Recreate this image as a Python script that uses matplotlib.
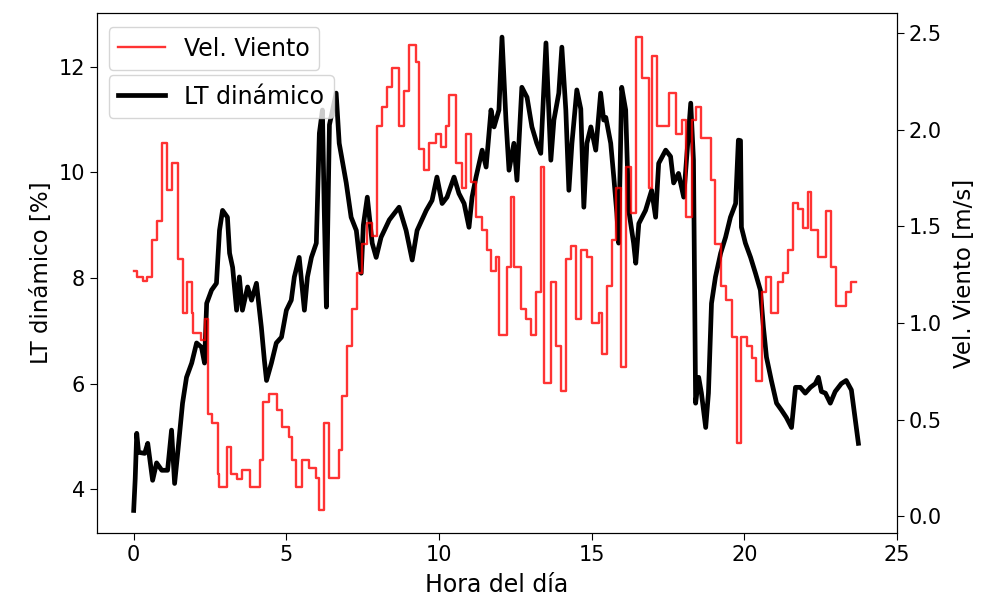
import matplotlib
matplotlib.use("Agg")
import matplotlib.pyplot as plt

# LT dinámico [%] vs hora
lt_hora = [0.00, 0.05, 0.10, 0.16, 0.36, 0.46, 0.62, 0.75, 0.92, 1.11, 1.24, 1.34, 1.44,
           1.60, 1.73, 1.90, 2.06, 2.22, 2.32, 2.39, 2.55, 2.71, 2.81, 2.91, 3.07, 3.14,
           3.24, 3.37, 3.46, 3.56, 3.73, 3.86, 4.02, 4.18, 4.28, 4.35, 4.51, 4.67, 4.84,
           5.00, 5.16, 5.26, 5.42, 5.59, 5.69, 5.82, 5.98, 6.08, 6.18, 6.24, 6.31, 6.41,
           6.63, 6.73, 6.96, 7.12, 7.29, 7.45, 7.52, 7.65, 7.81, 7.94, 8.10, 8.37, 8.69,
           8.92, 9.12, 9.28, 9.58, 9.77, 9.93, 10.10, 10.26, 10.49, 10.65, 10.82, 10.98,
           11.08, 11.21, 11.41, 11.54, 11.70, 11.80, 11.96, 12.06, 12.19, 12.29, 12.45,
           12.55, 12.71, 12.88, 13.04, 13.20, 13.33, 13.50, 13.66, 13.76, 13.92, 14.02,
           14.15, 14.25, 14.35, 14.51, 14.64, 14.74, 14.84, 14.97, 15.13, 15.29, 15.39,
           15.46, 15.62, 15.72, 15.82, 15.88, 15.98, 16.11, 16.21, 16.37, 16.44, 16.54,
           16.76, 16.96, 17.09, 17.19, 17.42, 17.58, 17.68, 17.84, 18.01, 18.10, 18.24,
           18.33, 18.40, 18.50, 18.59, 18.73, 18.82, 18.92, 19.05, 19.22, 19.38, 19.54,
           19.71, 19.80, 19.87, 19.90, 20.03, 20.20, 20.36, 20.52, 20.62, 20.72, 20.88,
           21.05, 21.21, 21.37, 21.54, 21.67, 21.83, 21.99, 22.16, 22.32, 22.42, 22.52,
           22.65, 22.81, 22.97, 23.17, 23.33, 23.50, 23.63, 23.73]
lt_valor = [3.6, 4.2, 5.06, 4.7, 4.68, 4.87, 4.17, 4.5, 4.36, 4.36, 5.12, 4.11, 4.68,
            5.63, 6.12, 6.39, 6.77, 6.69, 6.39, 7.52, 7.77, 7.9, 8.9, 9.28, 9.15, 8.47,
            8.2, 7.39, 8.02, 7.39, 7.83, 7.58, 7.9, 7.07, 6.44, 6.06, 6.39, 6.77, 6.88,
            7.39, 7.58, 8.02, 8.39, 7.39, 8.02, 8.39, 8.66, 10.74, 11.18, 9.28, 7.45, 10.9,
            11.5, 10.55, 9.8, 9.15, 8.9, 8.09, 9.0, 9.53, 8.66, 8.39, 8.77, 9.1, 9.34,
            8.9, 8.34, 8.9, 9.28, 9.47, 9.91, 9.41, 9.53, 9.91, 9.6, 9.41, 8.96,
            9.53, 9.91, 10.42, 10.1, 11.18, 10.86, 11.18, 12.56, 10.99, 10.04, 10.55,
            9.85, 11.61, 11.42, 10.86, 10.55, 10.36, 12.45, 10.23, 10.99, 11.5, 12.37,
            11.18, 9.66, 10.55, 11.56, 11.2, 9.34, 10.55, 10.86, 10.42, 11.5, 10.99,
            11.04, 10.55, 9.91, 9.23, 8.66, 11.61, 11.18, 9.28, 8.66, 8.28, 9.03,
            9.28, 9.66, 9.15, 10.17, 10.42, 10.3, 9.8, 9.98, 9.53, 10.23, 11.31,
            10.23, 5.63, 6.12, 5.82, 5.17, 5.82, 7.52, 8.02, 8.47, 8.77, 9.15,
            9.41, 10.61, 10.6, 8.96, 8.66, 8.39, 8.09, 7.77, 7.07, 6.5, 6.06,
            5.63, 5.5, 5.36, 5.17, 5.93, 5.93, 5.82, 5.93, 6.0, 6.12, 5.85,
            5.82, 5.63, 5.85, 6.0, 6.06, 5.88, 5.31, 4.87]

# Velocidad del viento [m/s], valores escalonados
viento_hora = [0.00, 0.10, 0.30, 0.42, 0.59, 0.75, 0.92, 1.08, 1.24, 1.44, 1.60, 1.76,
               1.90, 1.93, 2.22, 2.32, 2.42, 2.58, 2.75, 2.81, 3.04, 3.20, 3.37, 3.56,
               3.80, 4.12, 4.22, 4.44, 4.70, 4.87, 5.10, 5.20, 5.33, 5.52, 5.75, 5.98,
               6.08, 6.24, 6.41, 6.73, 6.83, 6.99, 7.16, 7.32, 7.48, 7.65, 7.81, 7.97,
               8.14, 8.30, 8.46, 8.69, 8.86, 9.02, 9.25, 9.35, 9.51, 9.67, 9.90, 10.07,
               10.23, 10.33, 10.56, 10.75, 10.88, 11.05, 11.21, 11.41, 11.57, 11.70,
               11.86, 11.96, 12.22, 12.35, 12.45, 12.68, 12.84, 13.01, 13.17, 13.33,
               13.43, 13.66, 13.82, 13.99, 14.15, 14.31, 14.48, 14.64, 14.84, 15.00,
               15.23, 15.33, 15.49, 15.65, 15.78, 15.95, 16.11, 16.27, 16.44, 16.63,
               16.86, 16.96, 17.12, 17.52, 17.75, 17.94, 18.10, 18.27, 18.40, 18.56,
               18.89, 19.05, 19.22, 19.41, 19.58, 19.74, 19.90, 20.07, 20.23, 20.39,
               20.56, 20.72, 20.88, 21.11, 21.27, 21.44, 21.60, 21.76, 21.93, 22.09,
               22.19, 22.42, 22.68, 22.84, 23.01, 23.33, 23.50, 23.66]
viento_valor = [1.27, 1.24, 1.22, 1.24, 1.43, 1.53, 1.93, 1.69, 1.83, 1.33, 1.05, 1.21,
                1.05, 0.95, 0.91, 1.02, 0.53, 0.48, 0.22, 0.15, 0.36, 0.22, 0.19, 0.24,
                0.15, 0.29, 0.59, 0.63, 0.55, 0.46, 0.41, 0.29, 0.15, 0.29, 0.25, 0.20,
                0.03, 0.48, 0.20, 0.34, 0.62, 0.88, 1.07, 1.26, 1.41, 1.52, 1.45, 2.02,
                2.12, 2.22, 2.32, 2.02, 2.20, 2.44, 2.35, 1.90, 1.79, 1.93, 1.98, 1.91,
                2.02, 2.18, 1.83, 1.70, 1.98, 1.73, 1.55, 1.48, 1.38, 1.27,
                1.34, 0.94, 1.29, 1.65, 1.29, 1.07, 1.02, 0.94, 1.16, 1.81,
                0.69, 1.21, 0.88, 0.65, 1.33, 1.40, 1.02, 1.38, 1.34, 1.00,
                1.05, 0.84, 1.19, 1.43, 1.70, 0.77, 1.81, 1.57, 2.48, 2.27,
                1.70, 2.38, 2.02, 2.19, 1.98, 2.05, 1.55, 2.05, 2.12, 1.96,
                1.74, 1.41, 1.19, 1.12, 0.93, 0.38, 0.93, 0.88, 0.82, 0.70,
                1.16, 1.24, 1.05, 1.21, 1.26, 1.38, 1.62, 1.59, 1.49, 1.68,
                1.48, 1.34, 1.58, 1.29, 1.09, 1.16, 1.21, 1.21]

fig = plt.figure(figsize=(9.87, 6.10), dpi=100)
ax1 = fig.add_axes([0.098, 0.126, 0.811, 0.853])
ax2 = ax1.twinx()

l1, = ax1.plot(lt_hora, lt_valor, color='black', linewidth=3.4, label='LT dinámico')
l2, = ax2.plot(viento_hora, viento_valor, color='red', alpha=0.8, linewidth=1.7,
               drawstyle='steps-post', label='Vel. Viento')

ax1.set_xlim(-1.21, 24.93)
ax1.set_ylim(3.17, 13.02)
ax2.set_ylim(-0.088, 2.606)
ax1.set_xticks([0, 5, 10, 15, 20, 25])
ax1.set_yticks([4, 6, 8, 10, 12])
ax2.set_yticks([0.0, 0.5, 1.0, 1.5, 2.0, 2.5])

ax1.set_xlabel('Hora del día', fontsize=17, labelpad=6)
ax1.set_ylabel('LT dinámico [%]', fontsize=16.5)
ax2.set_ylabel('Vel. Viento [m/s]', fontsize=16.5, labelpad=8)
ax1.tick_params(labelsize=15, length=5)
ax2.tick_params(labelsize=15, length=5)

leg_red = ax2.legend(handles=[l2], loc='upper left', fontsize=17,
                     bbox_to_anchor=(0.0, 0.995))
ax2.add_artist(leg_red)
ax2.legend(handles=[l1], loc='upper left', fontsize=17, bbox_to_anchor=(0.0, 0.903))

fig.savefig('out.png', dpi=100)
